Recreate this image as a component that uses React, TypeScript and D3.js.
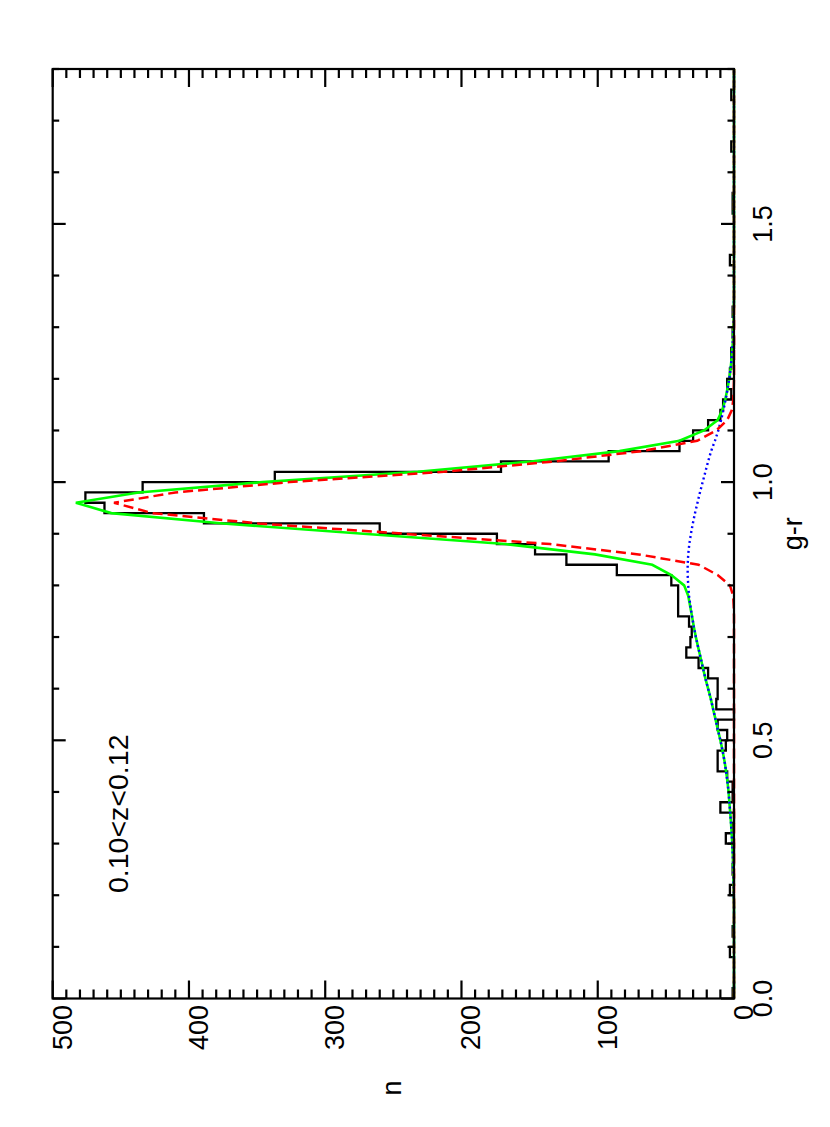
import React from 'react';
import * as d3 from 'd3';

const W = 830;
const H = 1127;

// g-r bin left edges (width 0.02)
const histEdges = [
  0.00, 0.02, 0.04, 0.06, 0.08, 0.10, 0.12, 0.14, 0.16, 0.18,
  0.20, 0.22, 0.24, 0.26, 0.28, 0.30, 0.32, 0.34, 0.36, 0.38,
  0.40, 0.42, 0.44, 0.46, 0.48, 0.50, 0.52, 0.54, 0.56, 0.58,
  0.60, 0.62, 0.64, 0.66, 0.68, 0.70, 0.72, 0.74, 0.76, 0.78,
  0.80, 0.82, 0.84, 0.86, 0.88, 0.90, 0.92, 0.94, 0.96, 0.98,
  1.00, 1.02, 1.04, 1.06, 1.08, 1.10, 1.12, 1.14, 1.16, 1.18,
  1.20, 1.22, 1.24, 1.26, 1.28, 1.30, 1.32, 1.34, 1.36, 1.38,
  1.40, 1.42, 1.44, 1.46, 1.48, 1.50, 1.52, 1.54, 1.56, 1.58,
  1.60, 1.62, 1.64, 1.66, 1.68, 1.70, 1.72, 1.74, 1.76, 1.78,
];
const histCounts = [
  1, 0, 0, 0, 3, 0, 1, 0, 0, 0,
  3, 0, 1, 0, 0, 6, 1, 0, 10, 1,
  1, 5, 12, 12, 6, 5, 12, 0, 13, 12,
  12, 19, 26, 35, 32, 31, 33, 41, 41, 41,
  46, 86, 123, 146, 174, 260, 389, 462, 476, 434,
  337, 171, 92, 40, 30, 19, 10, 8, 2, 5,
  3, 2, 2, 0, 1, 0, 1, 0, 0, 0,
  0, 3, 0, 0, 0, 0, 1, 1, 0, 0,
  0, 0, 2, 0, 0, 0, 0, 2, 0, 0,
];

// fit curves sampled along g-r
const curveGr = [
  0.00, 0.02, 0.04, 0.06, 0.08, 0.10, 0.12, 0.14, 0.16, 0.18,
  0.20, 0.22, 0.24, 0.26, 0.28, 0.30, 0.32, 0.34, 0.36, 0.38,
  0.40, 0.42, 0.44, 0.46, 0.48, 0.50, 0.52, 0.54, 0.56, 0.58,
  0.60, 0.62, 0.64, 0.66, 0.68, 0.70, 0.72, 0.74, 0.76, 0.78,
  0.80, 0.82, 0.84, 0.86, 0.88, 0.90, 0.92, 0.94, 0.96, 0.98,
  1.00, 1.02, 1.04, 1.06, 1.08, 1.10, 1.12, 1.14, 1.16, 1.18,
  1.20, 1.22, 1.24, 1.26, 1.28, 1.30, 1.32, 1.34, 1.36, 1.38,
  1.40, 1.42, 1.44, 1.46, 1.48, 1.50, 1.52, 1.54, 1.56, 1.58,
  1.60, 1.62, 1.64, 1.66, 1.68, 1.70, 1.72, 1.74, 1.76, 1.78,
  1.80,
];
const redFit = [
  0, 0, 0, 0, 0, 0, 0, 0, 0, 0,
  0, 0, 0, 0, 0, 0, 0, 0, 0, 0,
  0, 0, 0, 0, 0, 0, 0, 0, 0, 0,
  0, 0, 0, 0, 0, 0, 0, 0, 0.2, 0.6,
  3, 12, 26, 70, 135, 242, 349, 427, 455, 410,
  326, 213, 132, 68, 27, 13, 5, 1.5, 0.5, 0.2,
  0, 0, 0, 0, 0, 0, 0, 0, 0, 0,
  0, 0, 0, 0, 0, 0, 0, 0, 0, 0,
  0, 0, 0, 0, 0, 0, 0, 0, 0, 0,
  0,
];
const blueFit = [
  0, 0, 0, 0, 0, 0, 0, 0, 0, 0,
  0.2, 0.3, 0.5, 0.7, 0.9, 1.3, 1.7, 2.2, 2.8, 3.4,
  4.0, 4.8, 5.8, 7.0, 8.4, 10.0, 11.8, 13.5, 15.3, 17.0,
  19.0, 21.0, 22.8, 24.5, 26.3, 28.0, 29.5, 30.8, 32.0, 33.0,
  33.6, 34.0, 34.0, 33.6, 32.8, 31.6, 30.2, 28.6, 26.8, 25.0,
  23.0, 21.0, 19.0, 16.8, 14.0, 11.5, 9.5, 7.7, 6.1, 4.7,
  3.5, 2.5, 1.7, 1.1, 0.7, 0.4, 0.2, 0.1, 0, 0,
  0, 0, 0, 0, 0, 0, 0, 0, 0, 0,
  0, 0, 0, 0, 0, 0, 0, 0, 0, 0,
  0,
];
const totalFit = [
  0, 0, 0, 0, 0, 0, 0, 0, 0, 0,
  0.2, 0.3, 0.5, 0.7, 0.9, 1.3, 1.7, 2.2, 2.8, 3.4,
  4.0, 4.8, 5.8, 7.0, 8.4, 10.0, 11.8, 13.5, 15.3, 17.0,
  19.0, 21.0, 22.8, 24.5, 26.3, 28.0, 29.5, 30.8, 32.2, 33.6,
  36.6, 46, 60, 102, 168, 272, 375, 457, 483, 437,
  346, 232, 149, 84, 40, 22, 12, 8.5, 6.4, 4.9,
  3.5, 2.5, 1.7, 1.1, 0.7, 0.4, 0.2, 0.1, 0, 0,
  0, 0, 0, 0, 0, 0, 0, 0, 0, 0,
  0, 0, 0, 0, 0, 0, 0, 0, 0, 0,
  0,
];

const grTicks = [0, 0.5, 1.0, 1.5];
const grTickLabels = ['0.0', '0.5', '1.0', '1.5'];
const nTicks = [0, 100, 200, 300, 400, 500];
const nTickLabels = ['0', '100', '200', '300', '400', '500'];
const annotation = '0.10<z<0.12';
const xTitle = 'g-r';
const yTitle = 'n';

const FONT = '"Liberation Sans", Arial, Helvetica, sans-serif';

export default function App() {
  // rotated layout: n runs horizontally (0 at right), g-r vertically (0 at bottom)
  const nScale = d3.scaleLinear().domain([0, 500]).range([734, 52.7]);
  const grScale = d3.scaleLinear().domain([0, 1.8]).range([998.5, 69]);

  const left = nScale(500);
  const right = nScale(0);
  const top = grScale(1.8);
  const bottom = grScale(0);

  const histPts: [number, number][] = histEdges.map((e, i) => [nScale(histCounts[i]), grScale(e)]);
  histPts.push([nScale(histCounts[histCounts.length - 1]), grScale(1.8)]);
  const histPath = d3.line().curve(d3.curveStepBefore)(histPts) || '';

  const curve = (vals: number[]) =>
    d3
      .line<number>()
      .x((v) => nScale(v))
      .y((_, i) => grScale(curveGr[i]))(vals) || '';

  const nMinor = nScale.ticks(50);
  const grMinor = grScale.ticks(18);
  const isMajorN = (t: number) => nTicks.some((m) => Math.abs(m - t) < 1e-6);
  const isMajorGr = (t: number) => grTicks.some((m) => Math.abs(m - t) < 1e-6);

  const nMaj = 18, nMin = 9, gMaj = 13, gMin = 6.5;

  return (
    <svg
      width={W}
      height={H}
      style={{ position: 'absolute', left: 0, top: 0, background: '#fff' }}
      xmlns="http://www.w3.org/2000/svg"
    >
      <rect x={0} y={0} width={W} height={H} fill="#fff" />
      {/* histogram */}
      <path d={histPath} fill="none" stroke="#000" strokeWidth={2.3} />
      {/* fits */}
      <path d={curve(totalFit)} fill="none" stroke="#00ff00" strokeWidth={2.6} />
      <path d={curve(blueFit)} fill="none" stroke="#0000ff" strokeWidth={2.4} strokeDasharray="2 3" />
      <path d={curve(redFit)} fill="none" stroke="#ff0000" strokeWidth={2.5} strokeDasharray="10 5" />

      {/* frame */}
      <rect x={left} y={top} width={right - left} height={bottom - top} fill="none" stroke="#000" strokeWidth={2.2} />

      {/* n ticks: top and bottom edges */}
      {nMinor.map((t) => {
        const len = isMajorN(t) ? nMaj : nMin;
        const xx = nScale(t);
        return (
          <g key={'n' + t}>
            <line x1={xx} x2={xx} y1={bottom} y2={bottom - len} stroke="#000" strokeWidth={2.2} />
            <line x1={xx} x2={xx} y1={top} y2={top + len} stroke="#000" strokeWidth={2.2} />
          </g>
        );
      })}
      {/* g-r ticks: left and right edges */}
      {grMinor.map((t) => {
        const len = isMajorGr(t) ? gMaj : gMin;
        const yy = grScale(t);
        return (
          <g key={'g' + t}>
            <line x1={left} x2={left + len} y1={yy} y2={yy} stroke="#000" strokeWidth={2.2} />
            <line x1={right} x2={right - len} y1={yy} y2={yy} stroke="#000" strokeWidth={2.2} />
          </g>
        );
      })}

      {/* g-r tick labels (right side) */}
      {grTicks.map((t, i) => (
        <text
          key={'gl' + t}
          transform={`translate(772, ${grScale(t)}) rotate(-90)`}
          textAnchor="middle"
          fontFamily={FONT}
          fontSize={27}
          fill="#000"
        >
          {grTickLabels[i]}
        </text>
      ))}
      {/* n tick labels (bottom) */}
      {nTicks.map((t, i) => (
        <text
          key={'nl' + t}
          transform={`translate(${nScale(t) + 19}, 1005) rotate(-90)`}
          textAnchor="end"
          fontFamily={FONT}
          fontSize={27}
          fill="#000"
        >
          {nTickLabels[i]}
        </text>
      ))}

      {/* axis titles */}
      <text
        transform={`translate(802, ${(top + bottom) / 2}) rotate(-90)`}
        textAnchor="middle"
        fontFamily={FONT}
        fontSize={27}
        fill="#000"
      >
        {xTitle}
      </text>
      <text
        transform={`translate(401, 1088) rotate(-90)`}
        textAnchor="middle"
        fontFamily={FONT}
        fontSize={27}
        fill="#000"
      >
        {yTitle}
      </text>

      {/* annotation */}
      <text
        transform={`translate(128, 893) rotate(-90)`}
        textAnchor="start"
        fontFamily={FONT}
        fontSize={28.5}
        fill="#000"
      >
        {annotation}
      </text>
    </svg>
  );
}
